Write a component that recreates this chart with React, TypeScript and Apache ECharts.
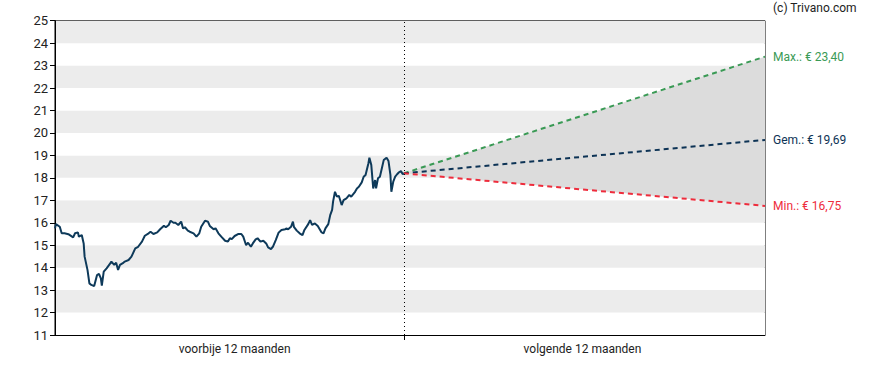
import React, { useEffect, useRef } from "react";
import * as echarts from "echarts";

// Past 12 months: day offsets (relative to today) and closing prices
const pastDays = [
  -365, -364, -360, -358, -355, -351, -346, -344, -341, -340, -337, -335, -334, -331, -329, -327,
  -324, -321, -319, -317, -316, -314, -311, -307, -306, -303, -301, -299, -297, -294, -292, -288,
  -285, -281, -278, -274, -271, -267, -265, -262, -258, -255, -251, -249, -246, -244, -241, -239,
  -236, -233, -231, -229, -226, -224, -220, -217, -214, -212, -208, -205, -203, -199, -197, -194,
  -191, -187, -184, -182, -180, -177, -173, -170, -168, -165, -163, -160, -158, -155, -153, -150,
  -147, -144, -142, -139, -137, -134, -131, -128, -124, -123, -121, -118, -116, -115, -112, -109,
  -106, -104, -100, -98, -96, -93, -90, -86, -84, -82, -79, -77, -75, -74, -72, -70, -68, -65,
  -63, -60, -57, -55, -51, -49, -47, -44, -42, -40, -37, -36, -34, -32, -30, -29, -27, -25, -23,
  -21, -18, -16, -14, -13, -11, -9, -7, -5, -3, -1, 0,
];
const pastPrices = [
  15.75, 15.94, 15.82, 15.53, 15.53, 15.49, 15.35, 15.53, 15.57, 15.38, 15.45, 15.08, 14.49, 13.9, 13.3, 13.23,
  13.18, 13.67, 13.72, 13.52, 13.2, 13.82, 13.97, 14.2, 14.27, 14.12, 14.22, 13.9, 14.12, 14.2, 14.27, 14.34,
  14.49, 14.86, 14.93, 15.16, 15.42, 15.53, 15.6, 15.5, 15.57, 15.71, 15.87, 15.8, 15.9, 16.09, 16.0, 16.0,
  15.9, 16.05, 15.75, 15.8, 15.65, 15.6, 15.53, 15.38, 15.53, 15.82, 16.09, 16.05, 15.86, 15.71, 15.75, 15.53,
  15.38, 15.2, 15.16, 15.31, 15.27, 15.41, 15.5, 15.5, 15.38, 15.0, 15.11, 14.93, 15.08, 15.26, 15.31, 15.16,
  15.2, 15.08, 14.9, 14.83, 14.93, 15.23, 15.56, 15.68, 15.71, 15.75, 15.71, 15.82, 16.05, 15.82, 15.65, 15.53,
  15.45, 15.68, 15.94, 16.12, 15.9, 15.97, 15.86, 15.57, 15.53, 15.75, 15.94, 16.34, 16.57, 16.94, 17.38, 17.16, 17.2, 16.79,
  17.01, 17.09, 17.24, 17.16, 17.38, 17.53, 17.6, 17.8, 18.05, 18.13, 18.65, 18.9, 18.57, 17.53, 17.9, 17.53, 17.98, 18.05, 18.42,
  18.79, 18.9, 18.75, 18.13, 17.38, 17.83, 18.05, 18.16, 18.25, 18.3, 18.16, 18.2,
];

// Forecast (next 12 months)
const forecastStartDay = 0;
const forecastEndDay = 378;
const forecastStart = 18.2;
const forecastMax = 23.4;
const forecastAvg = 19.69;
const forecastMin = 16.75;

const xLabels = ["voorbije 12 maanden", "volgende 12 maanden"];
const xLabelDays = [-177, 187];
const yTicks = [11, 25, 1]; // min, max, interval

const FONT = "Roboto, 'Noto Sans', sans-serif";

export default function App() {
  const ref = useRef<HTMLDivElement>(null);

  useEffect(() => {
    if (!ref.current) return;
    const chart = echarts.init(ref.current, undefined, { renderer: "svg" });

    const pastData = pastDays.map((d, i) => [d, pastPrices[i]]);
    const fmt = (v: number) => v.toFixed(2).replace(".", ",");

    const endLbl = (name: string, val: number, color: string) => ({
      show: true,
      formatter: `${name}: € ${fmt(val)}`,
      color,
      fontSize: 12,
      fontFamily: FONT,
      distance: 8,
    });

    const bandData = [
      [forecastStartDay, forecastStart, forecastStart],
      [forecastEndDay, forecastMin, forecastMax],
    ];

    const dash = (color: string) => ({ color, width: 2, type: [5, 4] });

    chart.setOption({
      animation: false,
      title: {
        text: "(c) Trivano.com",
        left: 773,
        top: 2,
        padding: 0,
        textStyle: { fontSize: 12, fontWeight: "normal", color: "#222", fontFamily: FONT },
      },
      grid: {
        left: 55,
        right: 123,
        top: 20.7,
        bottom: 35,
        show: true,
        borderColor: "#000",
        borderWidth: 1,
        backgroundColor: "transparent",
      },
      xAxis: {
        type: "value",
        min: -365,
        max: forecastEndDay,
        axisLine: { show: true, onZero: false, lineStyle: { color: "#000", width: 1 } },
        axisTick: { show: true, customValues: [0], length: 5, lineStyle: { color: "#000" } },
        axisLabel: {
          show: true,
          customValues: xLabelDays,
          formatter: (v: number) => (v < 0 ? xLabels[0] : xLabels[1]),
          color: "#222",
          fontSize: 12,
          fontFamily: FONT,
          margin: 8,
        },
        splitLine: { show: false },
      },
      yAxis: {
        type: "value",
        min: yTicks[0],
        max: yTicks[1],
        interval: yTicks[2],
        axisLine: { show: true, onZero: false, lineStyle: { color: "#000", width: 1 } },
        axisTick: { show: true, length: 5, lineStyle: { color: "#000" } },
        axisLabel: { color: "#222", fontSize: 13, fontFamily: FONT, margin: 7 },
        splitLine: { show: false },
        splitArea: { show: true, areaStyle: { color: ["#ffffff", "#ececec"] } },
      },
      series: [
        {
          name: "band",
          type: "custom",
          silent: true,
          z: 1,
          data: bandData,
          encode: { x: 0, y: [1, 2] },
          renderItem: (params: any, api: any) => {
            if (params.dataIndex !== 0) return null;
            const p0 = api.coord([bandData[0][0], bandData[0][1]]);
            const p1 = api.coord([bandData[1][0], bandData[1][1]]);
            const p2 = api.coord([bandData[1][0], bandData[1][2]]);
            const p3 = api.coord([bandData[0][0], bandData[0][2]]);
            return {
              type: "polygon",
              shape: { points: [p0, p1, p2, p3] },
              style: { fill: "#dcdcdc" },
            };
          },
        },
        {
          name: "Max",
          type: "line",
          symbol: "none",
          lineStyle: dash("#3a9a55"),
          data: [
            [forecastStartDay, forecastStart],
            [forecastEndDay, forecastMax],
          ],
          endLabel: endLbl("Max.", forecastMax, "#3a9a55"),
          z: 3,
        },
        {
          name: "Gem",
          type: "line",
          symbol: "none",
          lineStyle: dash("#0d3355"),
          data: [
            [forecastStartDay, forecastStart],
            [forecastEndDay, forecastAvg],
          ],
          endLabel: endLbl("Gem.", forecastAvg, "#0d3355"),
          z: 3,
        },
        {
          name: "Min",
          type: "line",
          symbol: "none",
          lineStyle: dash("#ee2c3c"),
          data: [
            [forecastStartDay, forecastStart],
            [forecastEndDay, forecastMin],
          ],
          endLabel: endLbl("Min.", forecastMin, "#ee2c3c"),
          z: 3,
        },
        {
          name: "Koers",
          type: "line",
          symbol: "none",
          lineStyle: { color: "#0e3a5a", width: 2 },
          data: pastData,
          z: 4,
          markLine: {
            silent: true,
            symbol: "none",
            label: { show: false },
            lineStyle: { color: "#000", width: 1, type: [1, 3] },
            data: [{ xAxis: 0 }],
          },
        },
      ],
    });

    return () => chart.dispose();
  }, []);

  return (
    <div
      ref={ref}
      style={{ position: "absolute", left: 0, top: 0, width: 888, height: 370 }}
    />
  );
}
